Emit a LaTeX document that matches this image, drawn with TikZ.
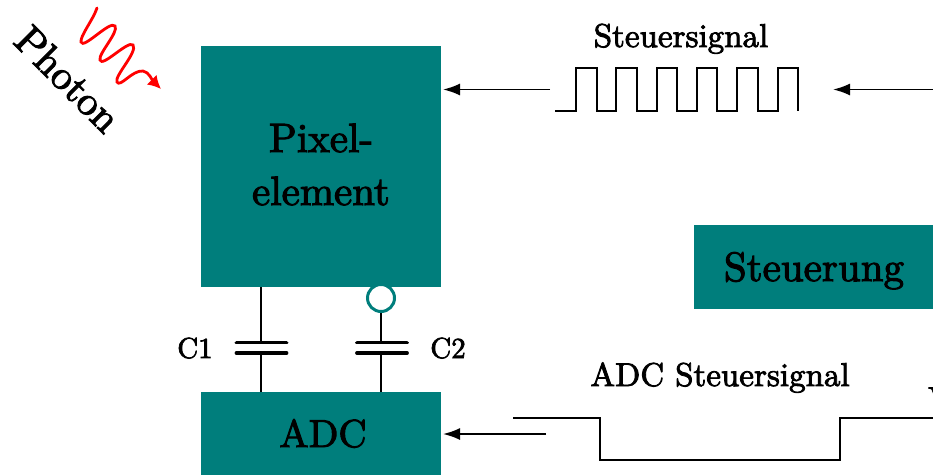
\documentclass[tikz,border=0pt]{standalone}
\usepackage{fontspec}
\newfontfamily\lmheavy{lmroman10-regular}[Extension=.otf,FakeBold=2.5]
\usetikzlibrary{arrows.meta}
\definecolor{tealbox}{RGB}{0,126,124}
\tikzset{
  x=1pt,y=-1pt,
  block/.style={fill=tealbox,draw=none,inner sep=0pt,text=black},
  sig/.style={line width=1.9pt,line join=miter,black},
  wire/.style={line width=1.9pt,black},
  plate/.style={line width=3.8pt,line cap=round,black},
  arr/.style={line width=1.9pt,black,-{Latex[length=17pt,width=12pt]}},
  lab/.style={inner sep=0pt,anchor=base,font=\lmheavy\fontsize{33}{36}\selectfont,text=black},
  big/.style={inner sep=0pt,anchor=base,font=\lmheavy\fontsize{41}{50}\selectfont,text=black},
}
\begin{document}
\begin{tikzpicture}
\useasboundingbox (0,0) rectangle (933,474);
\clip (0,0) rectangle (933,474);
\node[block,minimum width=240.5pt,minimum height=241pt] (pix) at (321.2,166.5) {};
\node[big] (pixt) at (321,152) {Pixel-};
\node[big] (pixu) at (321,205) {element};
\node[block,minimum width=240.5pt,minimum height=100pt] (adc) at (321.2,442) {};
\node[big,font=\lmheavy\fontsize{39}{44}\selectfont] (adct) at (323,447) {ADC};
\node[block,minimum width=260pt,minimum height=84pt] (ctl) at (824,267) {};
\node[big] (ctlt) at (814,281) {Steuerung};
\node[lab,anchor=center,rotate=-45,font=\lmheavy\fontsize{41}{44}\selectfont] (ph) at (68,79) {Photon};
\node[lab] (s1) at (681,47) {Steuersignal};
\node[lab] (s2) at (720,386) {ADC Steuersignal};
\node[lab,font=\lmheavy\fontsize{29}{36}\selectfont] (c1) at (195,358) {C1};
\node[lab,font=\lmheavy\fontsize{29}{36}\selectfont] (c2) at (448,358) {C2};
\node[lab,anchor=base west] (cut) at (928,410) {V};
% capacitors
\coordinate (k1a) at (261,342.5); \coordinate (k1b) at (261,353);
\coordinate (k2a) at (381,342.5); \coordinate (k2b) at (381,353);
\coordinate (p1l) at (236.5,342.5); \coordinate (p1r) at (286.5,342.5);
\coordinate (q1l) at (236.5,353); \coordinate (q1r) at (286.5,353);
\coordinate (p2l) at (357,342.5); \coordinate (p2r) at (407,342.5);
\coordinate (q2l) at (357,353); \coordinate (q2r) at (407,353);
\draw[plate] (p1l) -- (p1r);
\draw[plate] (q1l) -- (q1r);
\draw[plate] (p2l) -- (p2r);
\draw[plate] (q2l) -- (q2r);
\coordinate (t1) at (261,287); \coordinate (b1) at (261,392);
\coordinate (b2) at (381,392);
\node[circle,draw=tealbox,fill=white,line width=3pt,minimum size=27pt,inner sep=0pt] (inv) at (381,298) {};
\draw[wire] (t1) -- (k1a);
\draw[wire] (k1b) -- (b1);
\draw[wire] (inv.south) -- (k2a);
\draw[wire] (k2b) -- (b2);
% arrows
\coordinate (a1s) at (550,89.5); \coordinate (a1e) at (443,89.5);
\coordinate (a2s) at (933,89.5); \coordinate (a2e) at (833,89.5);
\coordinate (a3s) at (546,434); \coordinate (a3e) at (443,434);
\draw[arr] (a1s) -- (a1e);
\draw[arr] (a2s) -- (a2e);
\draw[arr] (a3s) -- (a3e);
% clock
\draw[sig] (555,111) -- (576,111) -- (576,68) -- (597,68) -- (597,111) -- (616,111) -- (616,68) -- (637,68) -- (637,111) -- (657,111) -- (657,68) -- (677,68) -- (677,111) -- (697,111) -- (697,68) -- (717,68) -- (717,111) -- (737,111) -- (737,68) -- (758,68) -- (758,111) -- (778,111) -- (778,68) -- (798,68) -- (798,111);
% adc signal
\draw[sig] (513,418) -- (600,418) -- (600,460) -- (840,460) -- (840,418) -- (933,418);
% photon
\draw[red,line width=2.8pt,line cap=round,-{Latex[length=13pt,width=14pt]}]
  (97,8) .. controls (93,20) and (80,36) .. (81,42) .. controls (83,50) and (110,20) .. (115,26)
  .. controls (119,32) and (98,54) .. (100,60) .. controls (102,68) and (128,40) .. (133,45)
  .. controls (138,52) and (114,76) .. (117,82) .. controls (120,88) and (132,70) .. (143,71)
  .. controls (149,72) and (152,80) .. (161,89);
\end{tikzpicture}
\end{document}
